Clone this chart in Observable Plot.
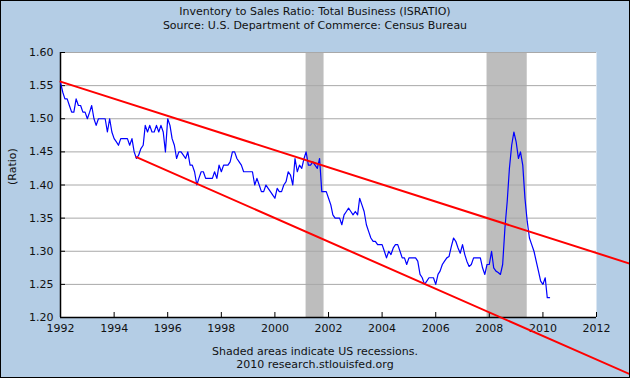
<!DOCTYPE html>
<html><head><meta charset="utf-8">
<script src="https://cdn.jsdelivr.net/npm/d3@7"></script>
<script src="https://cdn.jsdelivr.net/npm/@observablehq/plot@0.6"></script>
<style>
body{margin:0;background:#fff;}
#wrap{position:relative;width:630px;height:378px;overflow:hidden;font-family:"DejaVu Sans",sans-serif;color:#111;}
#border{position:absolute;left:0;top:0;width:630px;height:378px;box-sizing:border-box;border:1px solid #000;pointer-events:none;}
.t{position:absolute;left:0;width:630px;text-align:center;font-size:11px;line-height:13px;white-space:nowrap;}
svg{display:block;}
</style></head><body>
<div id="wrap"></div>
<script>
// Monthly Inventory/Sales ratio, Jan 1992 .. Apr 2010
const firstMonth = "1992-01";
const ratio = [
  1.555,1.54,1.53,1.53,1.52,1.51,1.51,1.53,1.52,1.52,1.51,1.51,      // 1992
  1.50,1.51,1.52,1.50,1.49,1.50,1.50,1.50,1.50,1.48,1.50,1.48,       // 1993
  1.47,1.465,1.46,1.47,1.47,1.47,1.47,1.46,1.47,1.45,1.44,1.445,     // 1994
  1.455,1.46,1.49,1.48,1.49,1.48,1.48,1.49,1.48,1.49,1.48,1.45,      // 1995
  1.50,1.49,1.47,1.46,1.44,1.45,1.45,1.445,1.44,1.45,1.43,1.43,      // 1996
  1.42,1.40,1.41,1.42,1.42,1.41,1.41,1.41,1.41,1.42,1.41,1.43,       // 1997
  1.42,1.43,1.43,1.43,1.435,1.45,1.45,1.44,1.435,1.43,1.42,1.42,     // 1998
  1.42,1.42,1.42,1.40,1.41,1.40,1.39,1.39,1.40,1.395,1.39,1.385,     // 1999
  1.38,1.395,1.39,1.39,1.40,1.405,1.42,1.415,1.40,1.44,1.42,1.43,    // 2000
  1.425,1.44,1.45,1.43,1.43,1.435,1.43,1.425,1.44,1.39,1.39,1.39,    // 2001
  1.38,1.37,1.355,1.35,1.35,1.35,1.34,1.355,1.36,1.365,1.36,1.355,   // 2002
  1.36,1.355,1.38,1.37,1.36,1.34,1.33,1.32,1.315,1.315,1.31,1.31,    // 2003
  1.31,1.30,1.29,1.30,1.295,1.305,1.31,1.31,1.30,1.29,1.29,1.28,     // 2004
  1.29,1.29,1.29,1.29,1.285,1.265,1.26,1.25,1.255,1.26,1.26,1.26,    // 2005
  1.25,1.265,1.27,1.28,1.285,1.29,1.292,1.307,1.32,1.315,1.305,1.297,// 2006
  1.31,1.295,1.285,1.277,1.28,1.29,1.29,1.29,1.29,1.275,1.265,1.28,  // 2007
  1.28,1.30,1.275,1.27,1.268,1.265,1.28,1.335,1.375,1.425,1.46,1.48, // 2008
  1.465,1.44,1.45,1.43,1.38,1.345,1.32,1.31,1.30,1.285,1.27,1.255,   // 2009
  1.25,1.26,1.23,1.23                                                 // 2010
];
const recessionStart = ["2001-03-01","2007-12-01"];
const recessionEnd   = ["2001-11-01","2009-06-01"];
const upperTrendDates = ["1992-01-01","2013-04-08"];
const upperTrendValues = [1.556,1.281];
const lowerTrendDates = ["1994-11-01","2013-04-08"];
const lowerTrendValues = [1.442,1.114];
const xTickYears = [1992,1994,1996,1998,2000,2002,2004,2006,2008,2010,2012];
const yTickValues = [1.20,1.25,1.30,1.35,1.40,1.45,1.50,1.55,1.60];

const t0 = d3.utcParse("%Y-%m")(firstMonth);
const series = ratio.map((v,i)=>({date: d3.utcMonth.offset(t0,i), value: v}));
const recessions = recessionStart.map((s,i)=>({start:new Date(s), end:new Date(recessionEnd[i])}));
const upper = upperTrendDates.map((d,i)=>({date:new Date(d), value:upperTrendValues[i]}));
const lower = lowerTrendDates.map((d,i)=>({date:new Date(d), value:lowerTrendValues[i]}));
const xTicks = xTickYears.map(y=>new Date(Date.UTC(y,0,1)));

const chart = Plot.plot({
  width: 630, height: 378,
  marginLeft: 60, marginRight: 34, marginTop: 52, marginBottom: 61,
  style: {background: "#B4CDE5", fontFamily: "DejaVu Sans, sans-serif", fontSize: "11px", color: "#111", overflow: "visible"},
  x: {type: "utc", domain: [xTicks[0], xTicks[xTicks.length-1]]},
  y: {domain: [1.20, 1.60]},
  marks: [
    Plot.frame({fill: "white", stroke: null}),
    Plot.rect(recessions, {x1: "start", x2: "end", fill: "#bdbdbd"}),
    Plot.gridY({ticks: yTickValues, stroke: "#a8a8a8", strokeOpacity: 1}),
    Plot.ruleY([yTickValues[0]], {stroke: "#000", strokeWidth: 1.5}),
    Plot.ruleX([xTicks[0]], {stroke: "#000", strokeWidth: 1.5}),
    Plot.axisX({ticks: xTicks, tickFormat: "%Y", tickSize: -5, tickPadding: 12, stroke: "#000", fill: "#111"}),
    Plot.axisY({ticks: yTickValues, tickFormat: d3.format(".2f"), tickSize: -5, tickPadding: 12, stroke: "#000", fill: "#111", label: null}),
    Plot.text(["(Ratio)"], {frameAnchor: "left", dx: -48, rotate: -90, fill: "#111", fontSize: 11}),
    Plot.line(series, {x: "date", y: "value", stroke: "#0000ff", strokeWidth: 1.2}),
    Plot.line(upper, {x: "date", y: "value", stroke: "#ff0000", strokeWidth: 2}),
    Plot.line(lower, {x: "date", y: "value", stroke: "#ff0000", strokeWidth: 2})
  ]
});
const wrap = document.getElementById("wrap");
wrap.appendChild(chart);
const addText = (txt, top) => { const d = document.createElement("div"); d.className = "t"; d.style.top = top + "px"; d.textContent = txt; wrap.appendChild(d); };
addText("Inventory to Sales Ratio: Total Business (ISRATIO)", 5);
addText("Source: U.S. Department of Commerce: Census Bureau", 19);
addText("Shaded areas indicate US recessions.", 345);
addText("2010 research.stlouisfed.org", 358);
const b = document.createElement("div"); b.id = "border"; wrap.appendChild(b);
</script>
</body></html>
